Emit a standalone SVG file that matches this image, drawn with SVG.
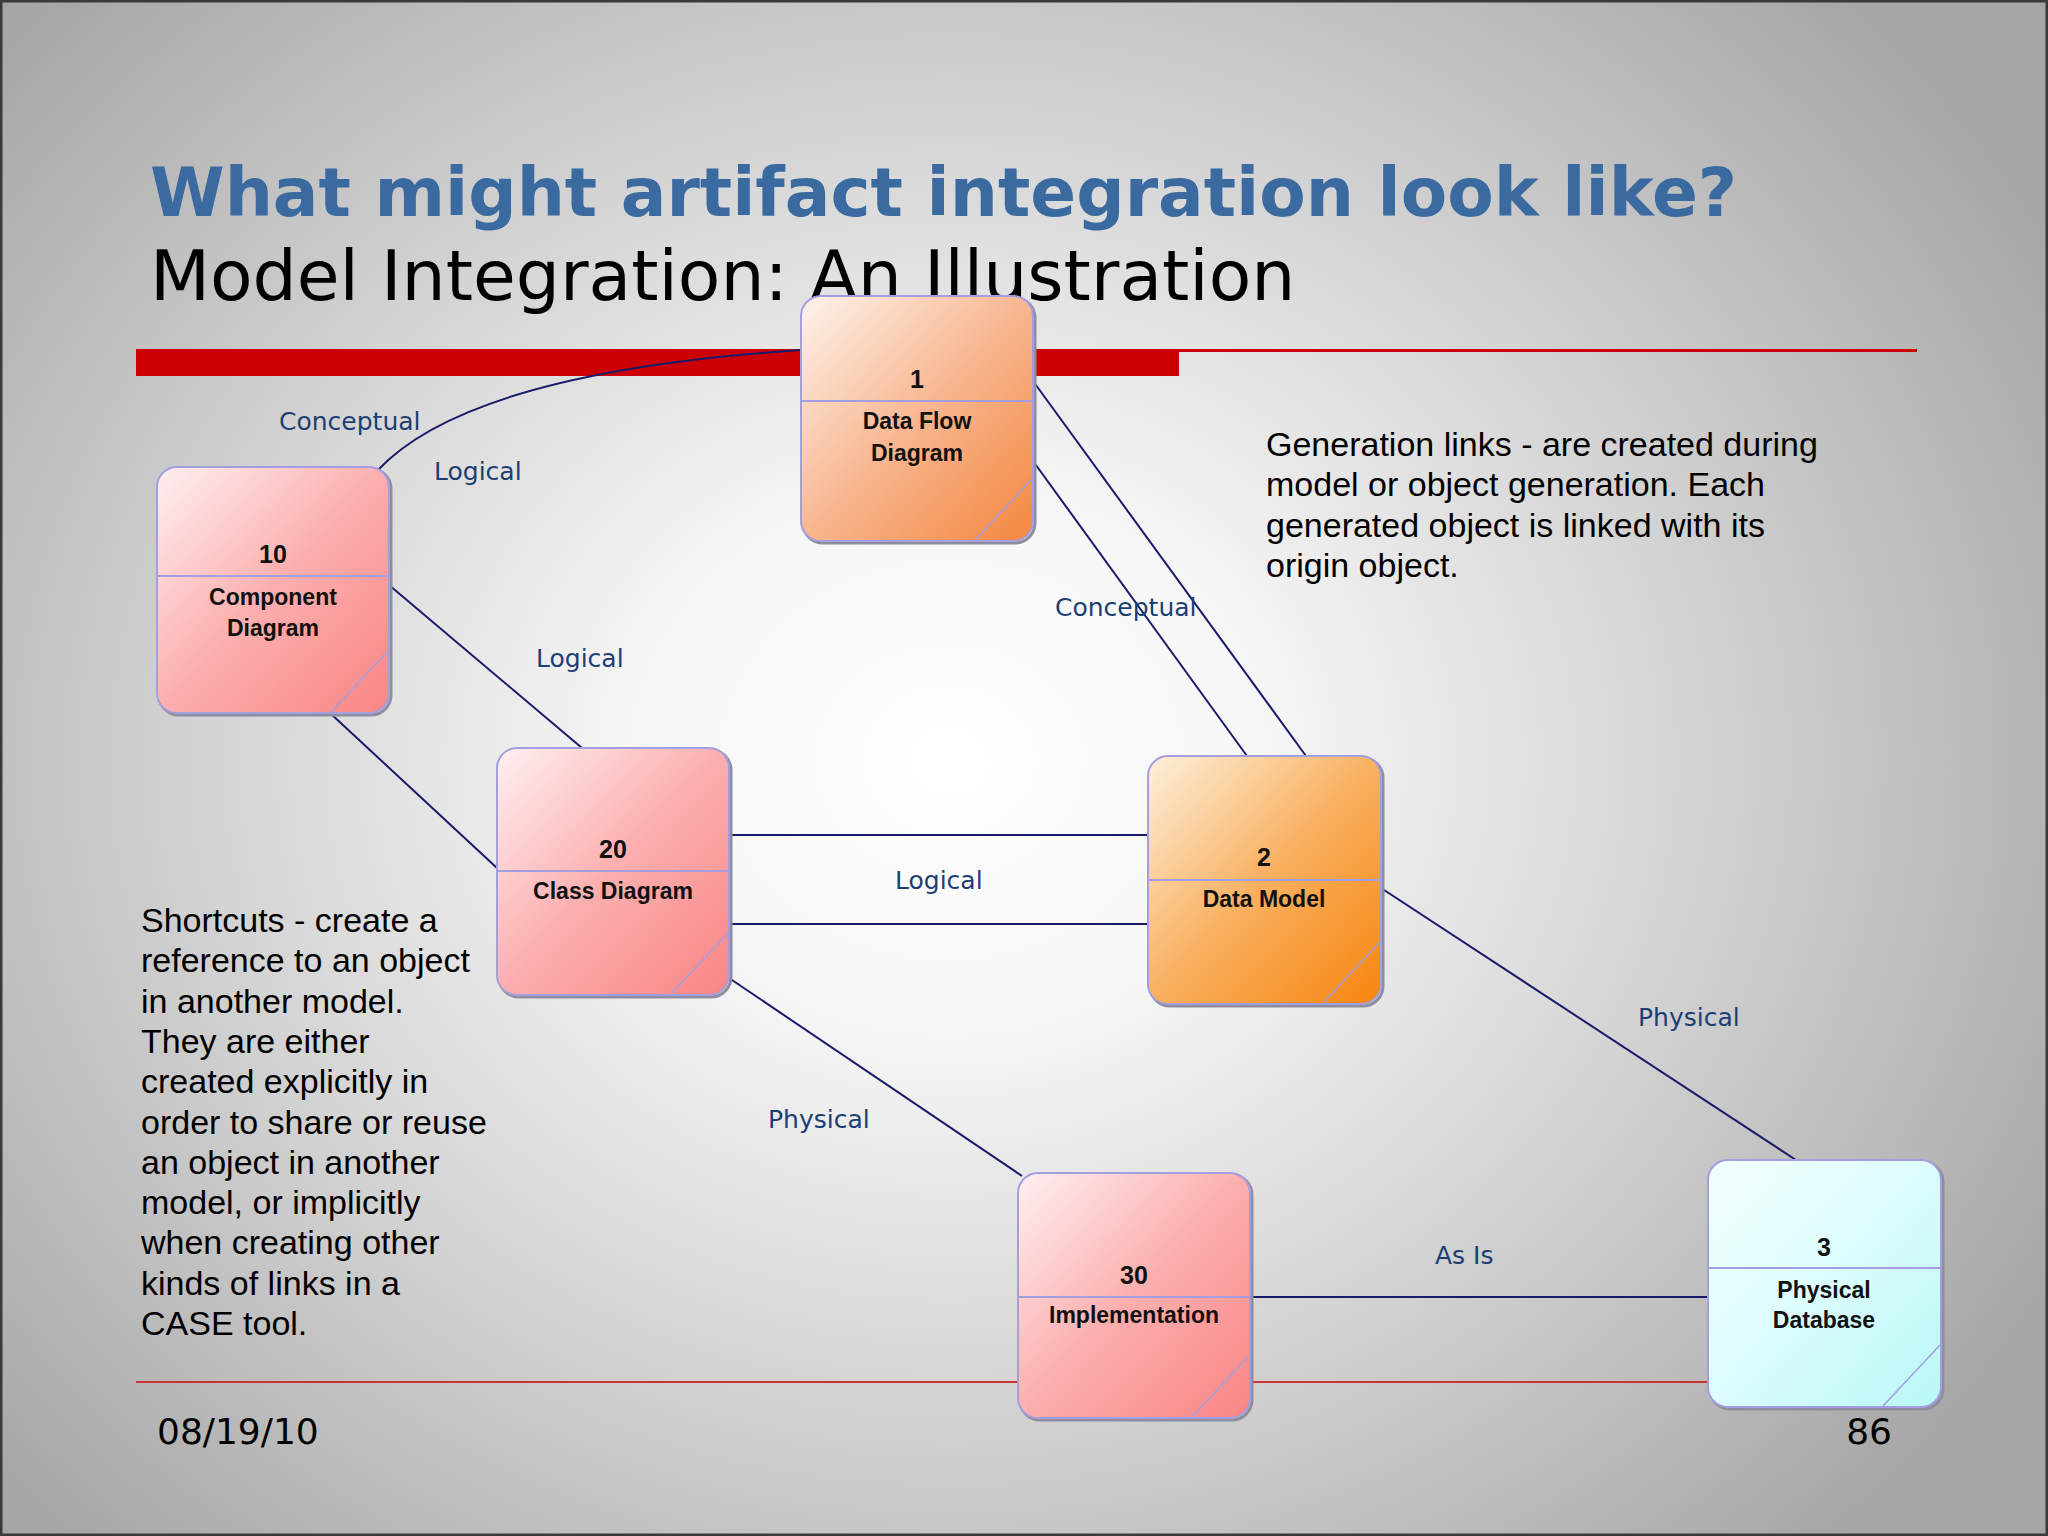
<svg xmlns="http://www.w3.org/2000/svg" width="2048" height="1536" viewBox="0 0 2048 1536">
<defs>
<radialGradient id="bg" gradientUnits="userSpaceOnUse" cx="950" cy="760" r="1150" gradientTransform="translate(950 760) scale(1.1 0.95) translate(-950 -760)">
<stop offset="0" stop-color="#ffffff"/>
<stop offset="0.25" stop-color="#f6f6f6"/>
<stop offset="0.6" stop-color="#d2d2d2"/>
<stop offset="1" stop-color="#a6a6a6"/>
</radialGradient>
<linearGradient id="gOr1" x1="0" y1="0" x2="1" y2="1">
<stop offset="0" stop-color="#fdf3ec"/>
<stop offset="0.5" stop-color="#f8b690"/>
<stop offset="1" stop-color="#f4873f"/>
</linearGradient>
<linearGradient id="gOr2" x1="0" y1="0" x2="1" y2="1">
<stop offset="0" stop-color="#fdf0dc"/>
<stop offset="0.5" stop-color="#f9b060"/>
<stop offset="1" stop-color="#f7850f"/>
</linearGradient>
<linearGradient id="gPk" x1="0" y1="0" x2="1" y2="1">
<stop offset="0" stop-color="#fff0f2"/>
<stop offset="0.5" stop-color="#fcaeae"/>
<stop offset="1" stop-color="#fa8585"/>
</linearGradient>
<linearGradient id="gCy" x1="0" y1="0" x2="1" y2="1">
<stop offset="0" stop-color="#f4ffff"/>
<stop offset="0.5" stop-color="#dcfcfc"/>
<stop offset="1" stop-color="#b8f7f7"/>
</linearGradient>
<style>
.shadow{fill:none;stroke:#8e8e9e;stroke-width:3}
.box{stroke:#a29ee0;stroke-width:2}
.div{stroke:#a29ee0;stroke-width:2}
.corner{stroke:#a29ee0;stroke-width:1.5}
.nt{font-family:"Liberation Sans",Arial,sans-serif;font-weight:bold;font-size:23px;fill:#111;text-anchor:middle}
.num{font-size:25px}
.conn{fill:none;stroke:#1a1a6a;stroke-width:2}
.lbl{font-family:"DejaVu Sans",Verdana,sans-serif;font-size:25px;fill:#1c3f73}
.body{font-family:"Liberation Sans",Arial,sans-serif;font-size:34px;fill:#000}
</style>
</defs>
<rect x="0" y="0" width="2048" height="1536" fill="url(#bg)"/>
<rect x="1" y="1" width="2046" height="1534" fill="none" stroke="#3a3a3a" stroke-width="3"/>

<text x="150" y="216" font-family="'DejaVu Sans',Verdana,sans-serif" font-weight="bold" font-size="67.7" fill="#3a6a9f">What might artifact integration look like?</text>
<text x="150" y="300" font-family="'DejaVu Sans',Verdana,sans-serif" font-size="69.6" fill="#000">Model Integration: An Illustration</text>

<rect x="136" y="349" width="1043" height="27" fill="#cc0000"/>
<rect x="1179" y="349" width="738" height="3" fill="#cc0000"/>
<rect x="136" y="1381" width="1781" height="2" fill="#cc3333"/>

<g id="connectors">
<path class="conn" d="M 378 470 Q 470 372 801 350"/>
<line class="conn" x1="389" y1="585" x2="582" y2="748"/>
<line class="conn" x1="330" y1="713" x2="497" y2="868"/>
<line class="conn" x1="1033" y1="381" x2="1306" y2="756"/>
<line class="conn" x1="1033" y1="461" x2="1247" y2="756"/>
<line class="conn" x1="729" y1="835" x2="1148" y2="835"/>
<line class="conn" x1="729" y1="924" x2="1148" y2="924"/>
<line class="conn" x1="1381" y1="888" x2="1796" y2="1160"/>
<line class="conn" x1="729" y1="978" x2="1022" y2="1176"/>
<line class="conn" x1="1250" y1="1297" x2="1708" y2="1297"/>
<text class="lbl" x="279" y="430">Conceptual</text>
<text class="lbl" x="434" y="480">Logical</text>
<text class="lbl" x="536" y="667">Logical</text>
<text class="lbl" x="1055" y="616">Conceptual</text>
<text class="lbl" x="895" y="889">Logical</text>
<text class="lbl" x="1638" y="1026">Physical</text>
<text class="lbl" x="768" y="1128">Physical</text>
<text class="lbl" x="1435" y="1264">As Is</text>
</g>

<g id="node-1" transform="translate(801 296)">
<rect class="shadow" x="2" y="2" width="232" height="245" rx="20"/>
<rect class="box" x="0" y="0" width="232" height="245" rx="20" fill="url(#gOr1)"/>
<line class="div" x1="0" y1="105" x2="232" y2="105"/>
<line class="corner" x1="231" y1="183" x2="174" y2="244"/>
<text class="nt num" x="116" y="92">1</text>
<text class="nt" x="116" y="133">Data Flow</text>
<text class="nt" x="116" y="165">Diagram</text>
</g>

<g id="node-10" transform="translate(157 467)">
<rect class="shadow" x="2" y="2" width="232" height="246" rx="20"/>
<rect class="box" x="0" y="0" width="232" height="246" rx="20" fill="url(#gPk)"/>
<line class="div" x1="0" y1="109" x2="232" y2="109"/>
<line class="corner" x1="231" y1="184" x2="174" y2="245"/>
<text class="nt num" x="116" y="96">10</text>
<text class="nt" x="116" y="138">Component</text>
<text class="nt" x="116" y="169">Diagram</text>
</g>

<g id="node-20" transform="translate(497 748)">
<rect class="shadow" x="2" y="2" width="232" height="247" rx="20"/>
<rect class="box" x="0" y="0" width="232" height="247" rx="20" fill="url(#gPk)"/>
<line class="div" x1="0" y1="123" x2="232" y2="123"/>
<line class="corner" x1="231" y1="185" x2="174" y2="246"/>
<text class="nt num" x="116" y="110">20</text>
<text class="nt" x="116" y="151">Class Diagram</text>
</g>

<g id="node-2" transform="translate(1148 756)">
<rect class="shadow" x="2" y="2" width="233" height="248" rx="20"/>
<rect class="box" x="0" y="0" width="233" height="248" rx="20" fill="url(#gOr2)"/>
<line class="div" x1="0" y1="124" x2="233" y2="124"/>
<line class="corner" x1="232" y1="186" x2="175" y2="247"/>
<text class="nt num" x="116" y="110">2</text>
<text class="nt" x="116" y="151">Data Model</text>
</g>

<g id="node-30" transform="translate(1018 1173)">
<rect class="shadow" x="2" y="2" width="232" height="245" rx="20"/>
<rect class="box" x="0" y="0" width="232" height="245" rx="20" fill="url(#gPk)"/>
<line class="div" x1="0" y1="124" x2="232" y2="124"/>
<line class="corner" x1="231" y1="183" x2="174" y2="244"/>
<text class="nt num" x="116" y="111">30</text>
<text class="nt" x="116" y="150">Implementation</text>
</g>

<g id="node-3" transform="translate(1708 1160)">
<rect class="shadow" x="2" y="2" width="233" height="247" rx="20"/>
<rect class="box" x="0" y="0" width="233" height="247" rx="20" fill="url(#gCy)"/>
<line class="div" x1="0" y1="108" x2="233" y2="108"/>
<line class="corner" x1="232" y1="185" x2="175" y2="246"/>
<text class="nt num" x="116" y="96">3</text>
<text class="nt" x="116" y="138">Physical</text>
<text class="nt" x="116" y="168">Database</text>
</g>

<g id="text-generation">
<text class="body" x="1266" y="456">Generation links - are created during</text>
<text class="body" x="1266" y="496">model or object generation. Each</text>
<text class="body" x="1266" y="537">generated object is linked with its</text>
<text class="body" x="1266" y="577">origin object.</text>
</g>

<g id="text-shortcuts">
<text class="body" x="141" y="932">Shortcuts - create a</text>
<text class="body" x="141" y="972">reference to an object</text>
<text class="body" x="141" y="1013">in another model.</text>
<text class="body" x="141" y="1053">They are either</text>
<text class="body" x="141" y="1093">created explicitly in</text>
<text class="body" x="141" y="1134">order to share or reuse</text>
<text class="body" x="141" y="1174">an object in another</text>
<text class="body" x="141" y="1214">model, or implicitly</text>
<text class="body" x="141" y="1254">when creating other</text>
<text class="body" x="141" y="1295">kinds of links in a</text>
<text class="body" x="141" y="1335">CASE tool.</text>
</g>

<text x="157" y="1444" font-family="'DejaVu Sans',Verdana,sans-serif" font-size="36" fill="#000">08/19/10</text>
<text x="1892" y="1444" text-anchor="end" font-family="'DejaVu Sans',Verdana,sans-serif" font-size="36" fill="#000">86</text>
</svg>
